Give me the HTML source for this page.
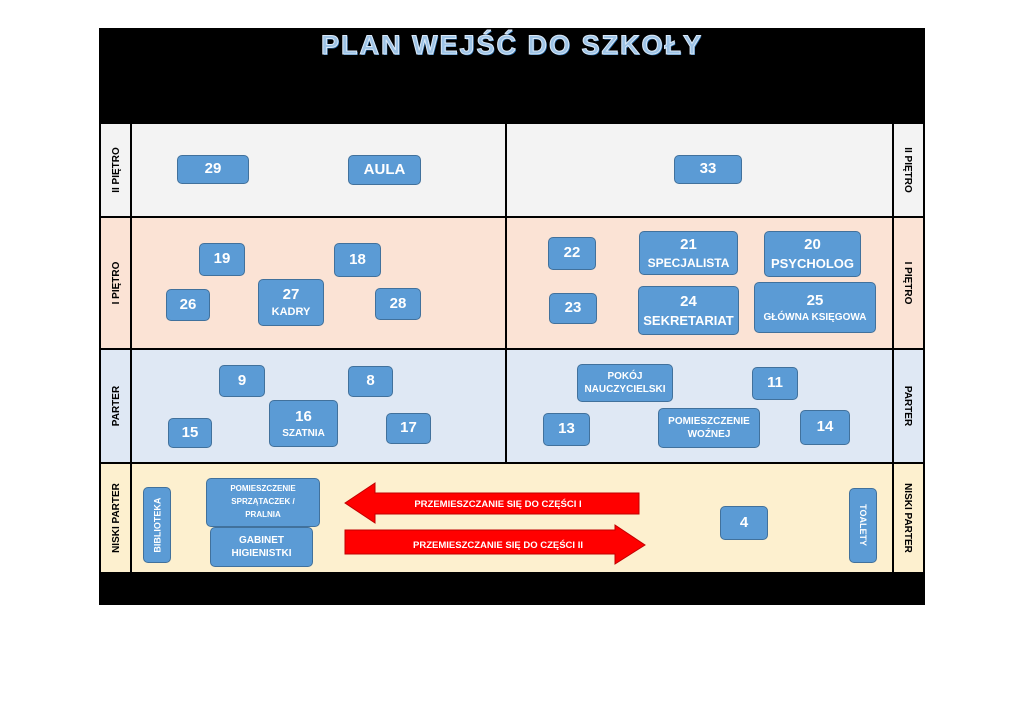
<!DOCTYPE html>
<html><head><meta charset="utf-8"><style>
body{margin:0;width:1024px;height:724px;background:#fff;position:relative;font-family:"Liberation Sans","DejaVu Sans",sans-serif;overflow:hidden}
.a{position:absolute}
.b{position:absolute;background:#5b9bd5;border:1px solid #41719c;border-radius:5px;color:#fff;font-family:"Liberation Sans Narrow","Liberation Sans",sans-serif;font-weight:bold;display:flex;flex-direction:column;align-items:center;justify-content:center;text-align:center;box-sizing:border-box;line-height:1.35}
.n{font-size:15px}.s{font-size:10px}.m{font-size:12px}
.lbl{position:absolute;display:flex;align-items:center;justify-content:center;font-size:10px;font-weight:bold;color:#000;white-space:nowrap}
.rl{transform:rotate(-90deg)}.rr{transform:rotate(90deg)}
</style></head><body>
<div class="a" style="left:99px;top:28px;width:826px;height:577px;background:#000"></div>
<div class="a" style="left:0;top:30px;width:1024px;text-align:center;font-size:27px;font-weight:bold;letter-spacing:2px;color:#9dc3e6;-webkit-text-stroke:1px #dbe9f7;text-shadow:1px 1px 0 #2e75b6">PLAN WEJŚĆ DO SZKOŁY</div>
<!-- rows -->
<div class="a" style="left:101px;top:124px;width:822px;height:92px;background:#f3f3f3"></div>
<div class="a" style="left:101px;top:218px;width:822px;height:130px;background:#fbe3d5"></div>
<div class="a" style="left:101px;top:350px;width:822px;height:112px;background:#dfe8f4"></div>
<div class="a" style="left:101px;top:464px;width:822px;height:108px;background:#fdf0cf"></div>
<!-- vertical lines -->
<div class="a" style="left:130px;top:123px;width:2px;height:450px;background:#000"></div>
<div class="a" style="left:892px;top:123px;width:2px;height:450px;background:#000"></div>
<div class="a" style="left:505px;top:123px;width:2px;height:340px;background:#000"></div>
<!-- side labels -->
<div class="lbl rl" style="left:71px;top:160px;width:90px;height:20px">II PIĘTRO</div>
<div class="lbl rr" style="left:863px;top:160px;width:90px;height:20px">II PIĘTRO</div>
<div class="lbl rl" style="left:71px;top:273px;width:90px;height:20px">I PIĘTRO</div>
<div class="lbl rr" style="left:863px;top:273px;width:90px;height:20px">I PIĘTRO</div>
<div class="lbl rl" style="left:71px;top:396px;width:90px;height:20px">PARTER</div>
<div class="lbl rr" style="left:863px;top:396px;width:90px;height:20px">PARTER</div>
<div class="lbl rl" style="left:66px;top:508px;width:100px;height:20px">NISKI PARTER</div>
<div class="lbl rr" style="left:858px;top:508px;width:100px;height:20px">NISKI PARTER</div>
<!-- II -->
<div class="b n" style="left:177px;top:155px;width:72px;height:29px">29</div>
<div class="b n" style="left:348px;top:155px;width:73px;height:30px">AULA</div>
<div class="b n" style="left:674px;top:155px;width:68px;height:29px">33</div>
<!-- I -->
<div class="b n" style="left:199px;top:243px;width:46px;height:33px">19</div>
<div class="b n" style="left:334px;top:243px;width:47px;height:34px">18</div>
<div class="b n" style="left:166px;top:289px;width:44px;height:32px">26</div>
<div class="b n" style="left:258px;top:279px;width:66px;height:47px"><span>27</span><span class="s" style="font-size:11px">KADRY</span></div>
<div class="b n" style="left:375px;top:288px;width:46px;height:32px">28</div>
<div class="b n" style="left:548px;top:237px;width:48px;height:33px">22</div>
<div class="b n" style="left:639px;top:231px;width:99px;height:44px"><span>21</span><span class="m">SPECJALISTA</span></div>
<div class="b n" style="left:764px;top:231px;width:97px;height:46px"><span>20</span><span style="font-size:13px">PSYCHOLOG</span></div>
<div class="b n" style="left:549px;top:293px;width:48px;height:31px">23</div>
<div class="b n" style="left:638px;top:286px;width:101px;height:49px"><span>24</span><span style="font-size:13px">SEKRETARIAT</span></div>
<div class="b n" style="left:754px;top:282px;width:122px;height:51px"><span>25</span><span class="s">GŁÓWNA KSIĘGOWA</span></div>
<!-- parter -->
<div class="b n" style="left:219px;top:365px;width:46px;height:32px">9</div>
<div class="b n" style="left:348px;top:366px;width:45px;height:31px">8</div>
<div class="b n" style="left:168px;top:418px;width:44px;height:30px">15</div>
<div class="b n" style="left:269px;top:400px;width:69px;height:47px"><span>16</span><span class="s">SZATNIA</span></div>
<div class="b n" style="left:386px;top:413px;width:45px;height:31px">17</div>
<div class="b s" style="left:577px;top:364px;width:96px;height:38px">POKÓJ<br>NAUCZYCIELSKI</div>
<div class="b n" style="left:752px;top:367px;width:46px;height:33px">11</div>
<div class="b n" style="left:543px;top:413px;width:47px;height:33px">13</div>
<div class="b s" style="left:658px;top:408px;width:102px;height:40px">POMIESZCZENIE<br>WOŹNEJ</div>
<div class="b n" style="left:800px;top:410px;width:50px;height:35px">14</div>
<!-- niski -->
<div class="b" style="left:143px;top:487px;width:28px;height:76px"><span class="rl" style="font-size:9px;white-space:nowrap">BIBLIOTEKA</span></div>
<div class="b" style="left:206px;top:478px;width:114px;height:49px;font-size:8px;line-height:1.6">POMIESZCZENIE<br>SPRZĄTACZEK /<br>PRALNIA</div>
<div class="b" style="left:210px;top:527px;width:103px;height:40px;font-size:10px">GABINET<br>HIGIENISTKI</div>
<div class="b n" style="left:720px;top:506px;width:48px;height:34px">4</div>
<div class="b" style="left:849px;top:488px;width:28px;height:75px"><span class="rr" style="font-size:9px;white-space:nowrap">TOALETY</span></div>
<svg class="a" style="left:0;top:0" width="1024" height="724">
<polygon points="345,503 375,483 375,493 639,493 639,514 375,514 375,523" fill="#ff0000" stroke="#c00000" stroke-width="1"/>
<polygon points="345,530 615,530 615,525 645,545 615,564 615,554 345,554" fill="#ff0000" stroke="#c00000" stroke-width="1"/>
<text x="498" y="507" font-size="9.5" font-weight="bold" fill="#fff" text-anchor="middle" font-family="Liberation Sans Narrow, Liberation Sans, sans-serif">PRZEMIESZCZANIE SIĘ DO CZĘŚCI I</text>
<text x="498" y="548" font-size="9.5" font-weight="bold" fill="#fff" text-anchor="middle" font-family="Liberation Sans Narrow, Liberation Sans, sans-serif">PRZEMIESZCZANIE SIĘ DO CZĘŚCI II</text>
</svg>
</body></html>
